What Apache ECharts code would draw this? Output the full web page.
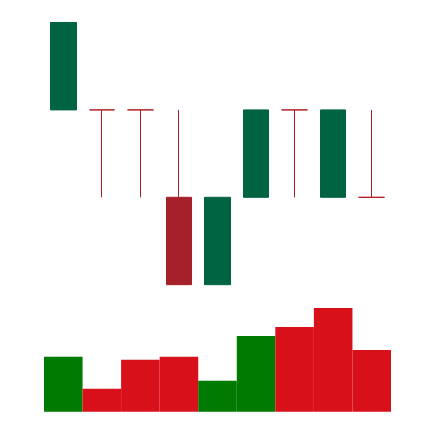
<!DOCTYPE html>
<html>
<head>
<meta charset="utf-8">
<script src="https://cdn.jsdelivr.net/npm/echarts@6/dist/echarts.min.js"></script>
<style>html,body{margin:0;padding:0;background:#fff;}#c{width:434px;height:422px;}</style>
</head>
<body>
<div id="c"></div>
<script>
const categories = ['1','2','3','4','5','6','7','8','9'];
// [open, close, low, high]
const ohlc = [
  [3,4,3,4],
  [3,3,2,3],
  [3,3,2,3],
  [2,1,1,3],
  [1,2,1,2],
  [2,3,2,3],
  [3,3,2,3],
  [2,3,2,3],
  [2,2,2,3]
];
const candleColors = ['#006442','#b01c24','#b01c24','#a52028','#006442','#006442','#b01c24','#006442','#b01c24'];
const volumes = [55, 23, 52, 55, 31, 76, 85, 104, 62];
const volumeColors = ['#007a00','#d7101a','#d7101a','#d7101a','#007a00','#007a00','#d7101a','#d7101a','#d7101a'];

const chart = echarts.init(document.getElementById('c'), null, {renderer:'canvas'});
chart.setOption({
  animation: false,
  backgroundColor: '#ffffff',
  grid: [
    {left: 44, right: 43, top: 22.5, bottom: 137.3},
    {left: 44, right: 43, top: 308, bottom: 10.3}
  ],
  xAxis: [
    {type:'category', data: categories, gridIndex:0, show:false, boundaryGap:true},
    {type:'category', data: categories, gridIndex:1, show:false, boundaryGap:true}
  ],
  yAxis: [
    {type:'value', gridIndex:0, min:1, max:4, show:false, splitLine:{show:false}},
    {type:'value', gridIndex:1, min:0, max:104, show:false, splitLine:{show:false}}
  ],
  series: [
    {
      type:'candlestick', xAxisIndex:0, yAxisIndex:0, barWidth: 26,
      data: ohlc.map((d,i)=>({value:d, itemStyle:{color:candleColors[i], color0:candleColors[i], borderColor:candleColors[i], borderColor0:candleColors[i], borderWidth:1}}))
    },
    {
      type:'bar', xAxisIndex:1, yAxisIndex:1, barWidth:'100%', barGap:0,
      data: volumes.map((v,i)=>({value:v, itemStyle:{color:volumeColors[i]}}))
    }
  ]
});
</script>
</body>
</html>
